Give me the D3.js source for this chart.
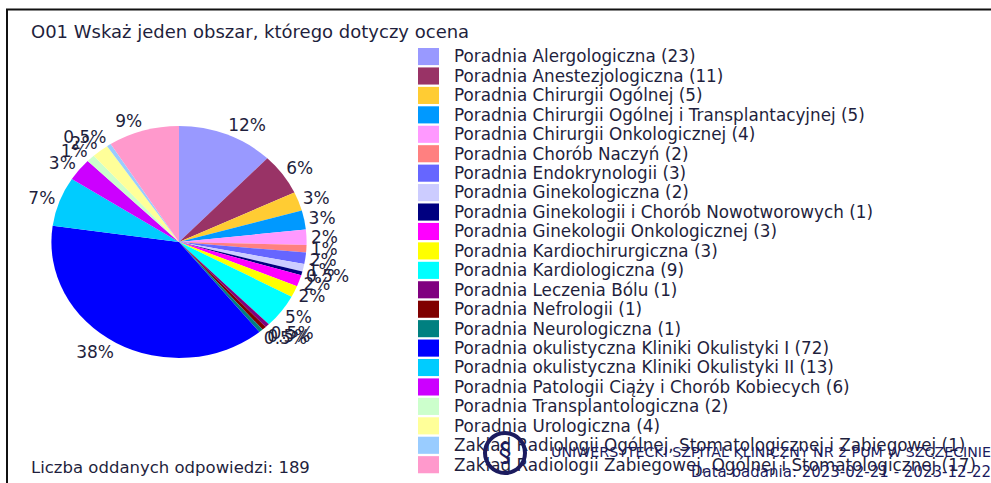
<!DOCTYPE html>
<html>
<head>
<meta charset="utf-8">
<script src="https://cdn.jsdelivr.net/npm/d3@7"></script>
<style>
  body { margin: 0; background: #fff; }
  svg { display: block; }
  text { font-family: "DejaVu Sans", Verdana, sans-serif; fill: #1f1f3d; }
</style>
</head>
<body>
<svg id="vis_svg" width="991" height="483"></svg>
<script>
// categories and answers counts
const categories = [
  'Poradnia Alergologiczna',
  'Poradnia Anestezjologiczna',
  'Poradnia Chirurgii Ogólnej',
  'Poradnia Chirurgii Ogólnej i Transplantacyjnej',
  'Poradnia Chirurgii Onkologicznej',
  'Poradnia Chorób Naczyń',
  'Poradnia Endokrynologii',
  'Poradnia Ginekologiczna',
  'Poradnia Ginekologii i Chorób Nowotworowych',
  'Poradnia Ginekologii Onkologicznej',
  'Poradnia Kardiochirurgiczna',
  'Poradnia Kardiologiczna',
  'Poradnia Leczenia Bólu',
  'Poradnia Nefrologii',
  'Poradnia Neurologiczna',
  'Poradnia okulistyczna Kliniki Okulistyki I',
  'Poradnia okulistyczna Kliniki Okulistyki II',
  'Poradnia Patologii Ciąży i Chorób Kobiecych',
  'Poradnia Transplantologiczna',
  'Poradnia Urologiczna',
  'Zakład Radiologii Ogólnej, Stomatologicznej i Zabiegowej',
  'Zakład Radiologii Zabiegowej, Ogólnej i Stomatologicznej',
];
const counts = [23, 11, 5, 5, 4, 2, 3, 2, 1, 3, 3, 9, 1, 1, 1, 72, 13, 6, 2, 4, 1, 17];
const colors = [
  '#9999ff', '#993366', '#ffcc33', '#0099ff', '#ff99ff', '#ff8080',
  '#6666ff', '#ccccff', '#000080', '#ff00ff', '#ffff00', '#00ffff',
  '#800080', '#800000', '#008080', '#0000ff', '#00ccff', '#cc00ff',
  '#ccffcc', '#ffff99', '#99ccff', '#ff99cc',
];
const title = 'O01 Wskaż jeden obszar, którego dotyczy ocena';
const footer = 'Liczba oddanych odpowiedzi: ';
const hospital = 'UNIWERSYTECKI SZPITAL KLINICZNY NR 2 PUM W SZCZECINIE';
const dates = 'Data badania: 2023-02-21 - 2023-12-22';

const svg = d3.select('#vis_svg');
const total = d3.sum(counts);

// frame
svg.append('rect')
  .attr('x', 7).attr('y', 9.5)
  .attr('width', 1200).attr('height', 600)
  .attr('fill', 'none')
  .attr('stroke', '#111')
  .attr('stroke-width', 2);

svg.append('text')
  .attr('x', 31).attr('y', 38)
  .style('font-size', '18px')
  .text(title);

/**
 * Pie, slightly stretched horizontally like the original.
 */
const cx = 179, cy = 242, r = 116, sx = 1.1;
const pie = d3.pie().sort(null).value((d) => d)(counts);
const arc = d3.arc().innerRadius(0).outerRadius(r);

const g_pie = svg.append('g').attr('transform', `translate(${cx},${cy})`);
g_pie.append('g')
  .attr('transform', `scale(${sx},1)`)
  .selectAll('path')
  .data(pie)
  .enter()
  .append('path')
  .attr('d', arc)
  .attr('fill', (d, i) => colors[i]);

const pct = (v) => {
  const p = (v / total) * 100;
  return p < 1 ? d3.format('.1f')(p) + '%' : Math.round(p) + '%';
};

// percentage labels just outside the rim
const rlx = (r + 4) * sx, rly = r + 10;
const mid = (d) => (d.startAngle + d.endAngle) / 2;
g_pie.selectAll('text')
  .data(pie)
  .enter()
  .append('text')
  .attr('x', (d) => Math.sin(mid(d)) * rlx)
  .attr('y', (d) => -Math.cos(mid(d)) * rly)
  .attr('dy', '0.35em')
  .attr('text-anchor', (d) => {
    const s = Math.sin(mid(d));
    return s > 0.1 ? 'start' : s < -0.1 ? 'end' : 'middle';
  })
  .style('font-size', '17px')
  .text((d) => pct(d.value));

// legend
const legendY = d3.scaleBand()
  .domain(d3.range(categories.length))
  .range([48, 48 + 19.33 * categories.length])
  .paddingInner(0.12);

const g_legend = svg.append('g');
const rows = g_legend.selectAll('g')
  .data(categories)
  .enter()
  .append('g')
  .attr('transform', (d, i) => `translate(0,${legendY(i)})`);

rows.append('rect')
  .attr('x', 418).attr('width', 21)
  .attr('height', legendY.bandwidth())
  .attr('fill', (d, i) => colors[i]);

rows.append('text')
  .attr('x', 454)
  .attr('y', legendY.bandwidth() / 2)
  .attr('dy', '0.35em')
  .style('font-size', '16.8px')
  .text((d, i) => `${d} (${counts[i]})`);

svg.append('text')
  .attr('x', 31).attr('y', 473)
  .style('font-size', '16.5px')
  .text(footer + total);

// hospital stamp in the bottom corner
const g_stamp = svg.append('g');
g_stamp.append('circle')
  .attr('cx', 505).attr('cy', 453).attr('r', 20)
  .attr('fill', 'none').attr('stroke', '#1b1b5e').attr('stroke-width', 4);
g_stamp.append('text')
  .attr('x', 505).attr('y', 462)
  .attr('text-anchor', 'middle')
  .style('font-size', '26px').style('fill', '#1b1b5e')
  .text('§');
g_stamp.append('text')
  .attr('x', 991).attr('y', 457)
  .attr('text-anchor', 'end')
  .style('font-size', '14.2px').style('fill', '#1b1b5e')
  .text(hospital);
g_stamp.append('text')
  .attr('x', 991).attr('y', 477)
  .attr('text-anchor', 'end')
  .style('font-size', '15px').style('fill', '#1b1b5e')
  .text(dates);
</script>
</body>
</html>
